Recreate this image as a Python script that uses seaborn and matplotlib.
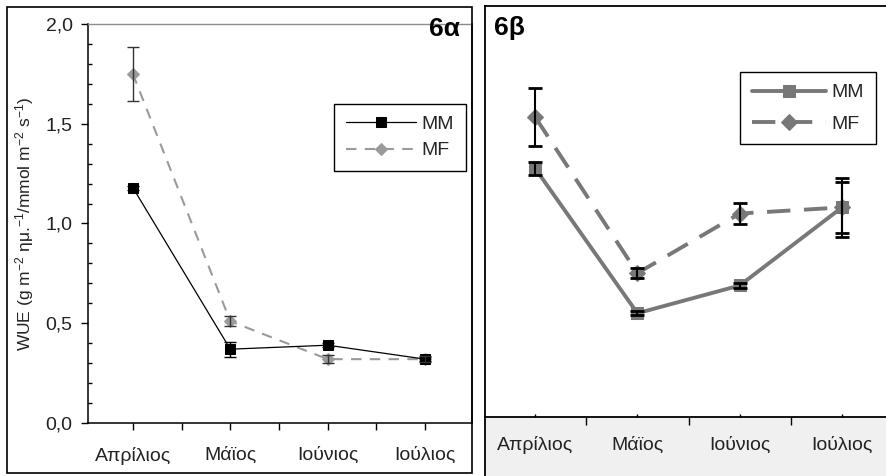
import matplotlib
matplotlib.use("Agg")
import matplotlib.pyplot as plt
from matplotlib.patches import Rectangle
from matplotlib.ticker import FixedLocator, FuncFormatter, MultipleLocator
import seaborn as sns

# Monthly WUE means and standard errors for the two treatments
months = ["Απρίλιος", "Μάϊος", "Ιούνιος", "Ιούλιος"]

mm_a = [1.18, 0.37, 0.39, 0.32]
mm_a_err = [0.01, 0.037, 0.01, 0.01]
mf_a = [1.75, 0.51, 0.32, 0.32]
mf_a_err = [0.135, 0.025, 0.02, 0.015]

mm_b = [1.21, 0.505, 0.64, 1.02]
mm_b_err = [0.033, 0.01, 0.01, 0.125]
mf_b = [1.46, 0.70, 0.99, 1.02]
mf_b_err = [0.14, 0.025, 0.05, 0.145]

y_ticks_a = [0.0, 0.5, 1.0, 1.5, 2.0]

sns.set_theme(style="white")
plt.rcParams["font.family"] = ["Liberation Sans", "DejaVu Sans"]
plt.rcParams["mathtext.fontset"] = "custom"
plt.rcParams["mathtext.rm"] = "Liberation Sans"
plt.rcParams["mathtext.it"] = "Liberation Sans"

W, H = 886, 476
fig = plt.figure(figsize=(W / 100, H / 100), dpi=100)


def fig_box(x0, y0, x1, y1):
    """Pixel box (top-left origin) -> figure-fraction rect."""
    return [x0 / W, 1 - y1 / H, (x1 - x0) / W, (y1 - y0) / H]


# shaded label band under panel b (behind everything)
fig.patches.append(Rectangle((485 / W, 0), (W - 485) / W, (H - 417) / H,
                             transform=fig.transFigure, facecolor="#f0f0f0",
                             edgecolor="none", zorder=-10))
# frame around panel a
fig.patches.append(Rectangle((7 / W, 1 - 473 / H), (472 - 7) / W, (473 - 7) / H,
                             transform=fig.transFigure, facecolor="none",
                             edgecolor="black", lw=1.2, zorder=5))

ax1 = fig.add_axes(fig_box(88, 24, 472, 423))
ax2 = fig.add_axes(fig_box(485, 6, 886, 417))
for ax in (ax1, ax2):
    ax.set_facecolor("white")

# ---- panel 6α ----
sns.lineplot(x=months, y=mm_a, ax=ax1, color="black", lw=0.9, marker="s",
             markersize=7, markeredgecolor="black", label="MM", sort=False,
             zorder=4)
sns.lineplot(x=months, y=mf_a, ax=ax1, color="#9a9a9a", lw=1.5,
             linestyle=(0, (5, 4)), marker="D", markersize=6,
             markeredgecolor="#9a9a9a", label="MF", sort=False, zorder=3)
ax1.errorbar(months, mm_a, yerr=mm_a_err, fmt="none", ecolor="black",
             elinewidth=1, capsize=4.5, capthick=1, zorder=5)
ax1.errorbar(months, mf_a, yerr=mf_a_err, fmt="none", ecolor="#333333",
             elinewidth=1, capsize=4.5, capthick=1, zorder=5)

ax1.set_xlim(-0.46, 3.48)
ax1.set_ylim(0, 2.0)
ax1.yaxis.set_major_locator(FixedLocator(y_ticks_a))
ax1.yaxis.set_minor_locator(MultipleLocator(0.1))
ax1.yaxis.set_major_formatter(FuncFormatter(lambda v, p: f"{v:.1f}".replace(".", ",")))
ax1.xaxis.set_minor_locator(FixedLocator([0.5, 1.5, 2.5]))
ax1.tick_params(axis="y", which="major", direction="out", length=5, width=1,
                color="black", labelsize=14, pad=6, labelcolor="#222222", left=True)
ax1.tick_params(axis="y", which="minor", direction="in", length=3, width=1,
                color="black", left=True)
ax1.tick_params(axis="x", which="both", direction="out", length=5, width=1,
                color="black", labelsize=14, pad=12, labelcolor="#222222", bottom=True)
for side in ("left", "bottom", "right"):
    ax1.spines[side].set_color("black")
    ax1.spines[side].set_linewidth(1.1)
ax1.spines["top"].set_color("#8c8c8c")
ax1.spines["top"].set_linewidth(1.0)
ax1.set_xlabel("")
ax1.set_ylabel(r"WUE (g m$^{-2}$ ημ.$^{-1}$/mmol m$^{-2}$ s$^{-1}$)",
               fontsize=12.5, color="#222222")
ax1.yaxis.set_label_coords(-0.135, 0.5)
ax1.legend(loc="upper left", bbox_to_anchor=(0.641, 0.80), borderaxespad=0,
           fontsize=14, frameon=True, fancybox=False, edgecolor="black",
           framealpha=1, handlelength=3.6, handletextpad=0.3,
           labelspacing=0.45, borderpad=0.6)
ax1.get_legend().get_frame().set_linewidth(1.0)
fig.text(460 / W, 1 - 29 / H, "6α", ha="right", va="center",
         fontsize=19, fontweight="bold", color="black", zorder=6)

# ---- panel 6β ----
line_b = "#787878"
sns.lineplot(x=months, y=mm_b, ax=ax2, color=line_b, lw=2.8, marker="s",
             markersize=9, markeredgecolor=line_b, label="MM", sort=False,
             zorder=3)
sns.lineplot(x=months, y=mf_b, ax=ax2, color=line_b, lw=2.8,
             linestyle=(0, (6, 3.5)), marker="D", markersize=8,
             markeredgecolor=line_b, label="MF", sort=False, zorder=3)
ax2.errorbar(months, mm_b, yerr=mm_b_err, fmt="none", ecolor="black",
             elinewidth=1.5, capsize=5, capthick=2, zorder=4)
ax2.errorbar(months, mf_b, yerr=mf_b_err, fmt="none", ecolor="black",
             elinewidth=1.5, capsize=5, capthick=2, zorder=4)

ax2.set_xlim(-0.49, 3.43)
ax2.set_ylim(0, 2.0)
ax2.set_yticks([])
ax2.xaxis.set_minor_locator(FixedLocator([0.5, 1.5, 2.5]))
ax2.tick_params(axis="x", which="major", direction="in", length=2, width=1,
                color="black", labelsize=14, pad=14, labelcolor="#222222", bottom=True)
ax2.tick_params(axis="x", which="minor", direction="out", length=6, width=1,
                color="black", bottom=True)
for side in ("left", "bottom", "top"):
    ax2.spines[side].set_color("black")
    ax2.spines[side].set_linewidth(1.3)
ax2.spines["right"].set_visible(False)
ax2.set_xlabel("")
ax2.set_ylabel("")
ax2.legend(loc="upper left", bbox_to_anchor=(0.636, 0.839), borderaxespad=0,
           fontsize=14, frameon=True, fancybox=False, edgecolor="black",
           framealpha=1, handlelength=3.8, handletextpad=0.3,
           labelspacing=0.7, borderpad=0.6)
ax2.get_legend().get_frame().set_linewidth(1.0)
fig.text(494 / W, 1 - 28 / H, "6β", ha="left", va="center",
         fontsize=19, fontweight="bold", color="black")

# left edge line of panel b running through the label band
fig.add_artist(plt.Line2D([485 / W, 485 / W], [0, 1 - 417 / H],
                          transform=fig.transFigure, color="black", lw=1.3))

fig.savefig("out.png", dpi=100)
